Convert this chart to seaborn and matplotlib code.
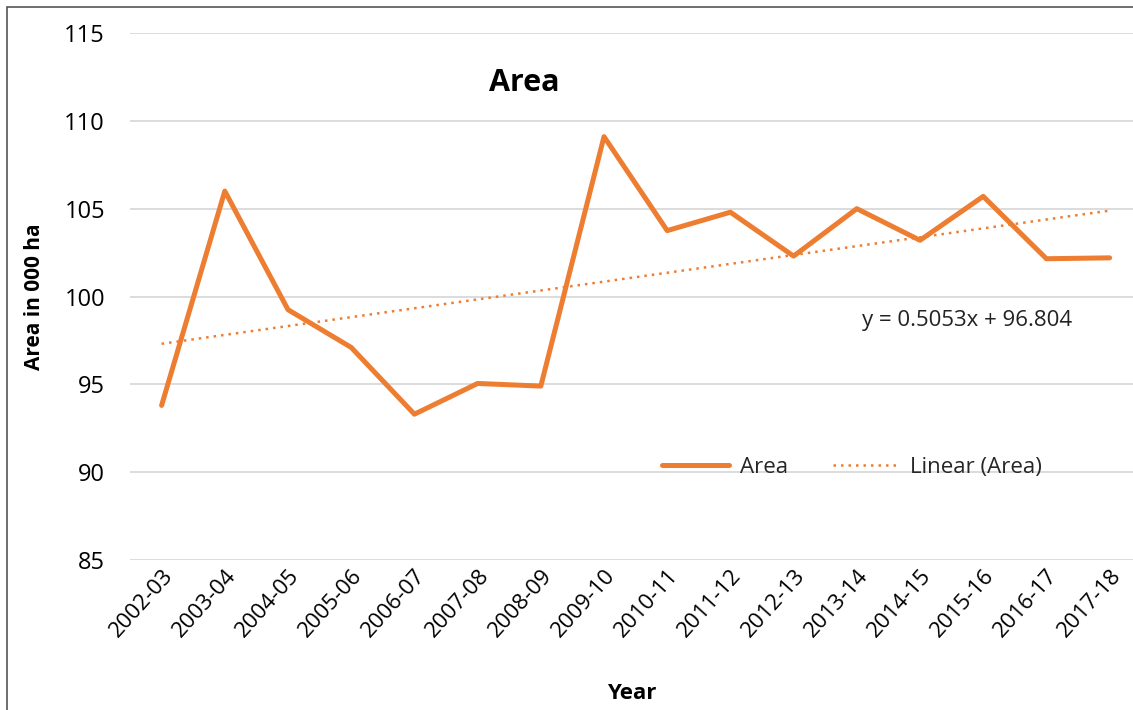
import numpy as np
import pandas as pd
import matplotlib.pyplot as plt
import seaborn as sns
from matplotlib.patches import Rectangle

# data
years = ['2002-03', '2003-04', '2004-05', '2005-06', '2006-07', '2007-08', '2008-09', '2009-10',
         '2010-11', '2011-12', '2012-13', '2013-14', '2014-15', '2015-16', '2016-17', '2017-18']
area = [93.8, 106.0, 99.25, 97.1, 93.3, 95.05, 94.9, 109.1,
        103.75, 104.8, 102.3, 105.0, 103.2, 105.7, 102.15, 102.2]
slope = 0.5053
intercept = 96.804

df = pd.DataFrame({'Year': years, 'Area': area})
df['pos'] = np.arange(len(df))
df['Trend'] = slope * (df['pos'] + 1) + intercept

orange = '#ED7D31'

sns.set_theme(style='white')
plt.rcParams['font.family'] = ['Open Sans', 'DejaVu Sans']

fig = plt.figure(figsize=(11.33, 7.10), dpi=100)
ax = fig.add_axes([130 / 1133, 1 - 560 / 710, (1133 - 130) / 1133, (560 - 33) / 710])

sns.lineplot(data=df, x='pos', y='Area', color=orange, linewidth=3.6, ax=ax, label='Area')
sns.lineplot(data=df, x='pos', y='Trend', color=orange, linewidth=1.8, linestyle=(0, (1, 2)),
             ax=ax, label='Linear (Area)')

ax.set_xlim(-0.5, 15.37)
ax.set_ylim(85, 115)
ax.set_yticks(range(85, 116, 5))
ax.set_xticks(df['pos'])
ax.set_xticklabels(years, rotation=48, ha='right', rotation_mode='anchor', fontsize=16,
                   color='black')
ax.tick_params(axis='y', labelsize=17, length=0, pad=18, labelcolor='black')
ax.tick_params(axis='x', length=0, pad=4)
ax.yaxis.grid(True, color='#d9d9d9', linewidth=1.3)
for s in ax.spines.values():
    s.set_visible(False)

ax.set_xlabel('Year', fontsize=16, fontweight='bold', labelpad=30, color='black')
ax.set_ylabel('Area in 000 ha', fontsize=15, fontweight='bold', labelpad=14, color='black')
ax.text(0.393, 0.905, 'Area', transform=ax.transAxes, fontsize=22, fontweight='bold',
        ha='center', va='center', color='black')
ax.text(0.835, 0.455, 'y = 0.5053x + 96.804', transform=ax.transAxes, fontsize=16,
        ha='center', va='center', color='#222222')

leg = ax.legend(loc='center', bbox_to_anchor=(0.72, 0.175), ncol=2, frameon=False,
                fontsize=16, handlelength=3.0, columnspacing=2.0, handletextpad=0.5)

fig.patches.append(Rectangle((7 / 1133, -0.1), 1.2, 1.1 - 7 / 710, transform=fig.transFigure,
                             fill=False, edgecolor='#555555', linewidth=1.2))

fig.savefig('out.png', dpi=100)
